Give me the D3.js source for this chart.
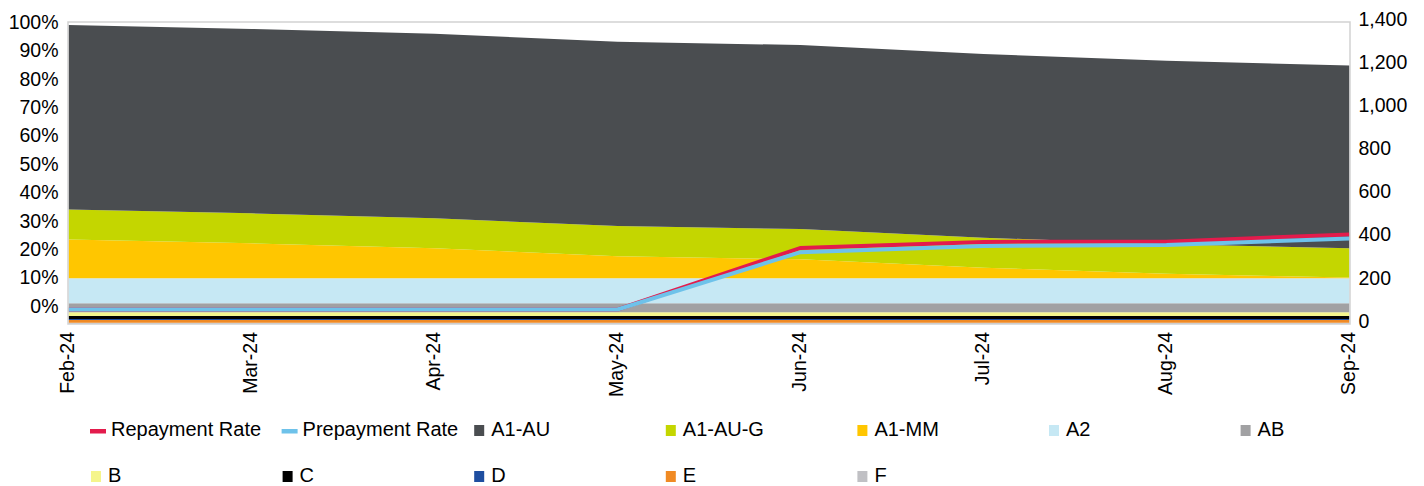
<!DOCTYPE html>
<html><head><meta charset="utf-8">
<script src="https://cdn.jsdelivr.net/npm/d3@7"></script>
<style>
html,body{margin:0;padding:0;background:#fff;}
svg text{font-family:"Liberation Sans",Arial,sans-serif;fill:#000;}
</style></head>
<body><svg id="chart" width="1424" height="486"></svg>
<script>
// ---- data ----
const months = ["Feb-24","Mar-24","Apr-24","May-24","Jun-24","Jul-24","Aug-24","Sep-24"];
const A1_AU   = [855, 855, 855, 855, 853, 852, 850, 847];
const A1_AU_G = [139, 139, 139, 140, 140, 139, 137, 136];
const A1_MM   = [180, 162, 139, 102, 88, 49, 21, 3];
const A2      = [116, 116, 116, 116, 116, 116, 116, 116];
const AB      = [42, 42, 42, 42, 42, 42, 42, 42];
const B       = [17, 17, 17, 17, 17, 17, 17, 17];
const C       = [14, 14, 14, 14, 14, 14, 14, 14];
const D       = [5, 5, 5, 5, 5, 5, 5, 5];
const E       = [12, 12, 12, 12, 12, 12, 12, 12];
const F       = [6, 6, 6, 6, 6, 6, 6, 6];
const repaymentRate  = [0, 0, 0, 0, 0.217, 0.238, 0.239, 0.264];
const prepaymentRate = [0, 0, 0, 0, 0.202, 0.224, 0.227, 0.250];
const leftTicks  = [0,0.1,0.2,0.3,0.4,0.5,0.6,0.7,0.8,0.9,1.0];
const rightTicks = [0,200,400,600,800,1000,1200,1400];

const areaSeries = [ // bottom to top
  {key:"F", values:F, color:"#c0c0c4"},
  {key:"E", values:E, color:"#f08a24"},
  {key:"D", values:D, color:"#1e4ea0"},
  {key:"C", values:C, color:"#000000"},
  {key:"B", values:B, color:"#f5f58c"},
  {key:"AB", values:AB, color:"#a1a1a3"},
  {key:"A2", values:A2, color:"#c6e8f4"},
  {key:"A1-MM", values:A1_MM, color:"#ffc600"},
  {key:"A1-AU-G", values:A1_AU_G, color:"#c4d600"},
  {key:"A1-AU", values:A1_AU, color:"#4a4d50"}
];
const lineSeries = [
  {key:"Repayment Rate", values:repaymentRate, color:"#e31b4c"},
  {key:"Prepayment Rate", values:prepaymentRate, color:"#6ec2ea"}
];
const legendOrder = ["Repayment Rate","Prepayment Rate","A1-AU","A1-AU-G","A1-MM","A2","AB","B","C","D","E","F"];

// ---- layout ----
const margin = {left:68.5, top:22, right:74.5, bottom:162};
const W = 1424 - margin.left - margin.right;
const H = 486 - margin.top - margin.bottom;
const svg = d3.select("#chart");
const g = svg.append("g").attr("transform",`translate(${margin.left},${margin.top})`);

const x = d3.scalePoint().domain(months).range([0, W]);
const yR = d3.scaleLinear().domain([0,1400]).range([H,0]);
const yL = d3.scaleLinear().domain([-0.051,1.0123]).range([H,0]);

// stacked areas
const rows = months.map((m,i)=>{const r={month:m}; areaSeries.forEach(s=>r[s.key]=s.values[i]); return r;});
const stack = d3.stack().keys(areaSeries.map(s=>s.key))(rows);
const area = d3.area().x(d=>x(d.data.month)).y0(d=>yR(d[0])).y1(d=>yR(d[1]));
g.selectAll("path.area").data(stack).join("path")
  .attr("class","area")
  .attr("d",area)
  .attr("fill",(d,i)=>areaSeries[i].color);

// lines
const line = d3.line().x((d,i)=>x(months[i])).y(d=>yL(d));
lineSeries.forEach(s=>{
  g.append("path").attr("d",line(s.values)).attr("fill","none")
   .attr("stroke",s.color).attr("stroke-width",4).attr("stroke-linejoin","miter");
});

// plot frame
g.append("rect").attr("x",-0.5).attr("y",0).attr("width",W+1).attr("height",H)
  .attr("fill","none").attr("stroke","#d2d2d2").attr("stroke-width",1.5);

// axes
const fs = "19.5px";
const axL = g.append("g").call(d3.axisLeft(yL).tickValues(leftTicks).tickFormat(d3.format(".0%")).tickSize(0).tickPadding(10));
axL.select(".domain").remove();
axL.selectAll("text").attr("font-size",fs).attr("transform","translate(0,-3.5)");

const axR = g.append("g").attr("transform",`translate(${W},0)`)
  .call(d3.axisRight(yR).tickValues(rightTicks).tickFormat(d3.format(",")).tickSize(0).tickPadding(9));
axR.select(".domain").remove();
axR.selectAll("text").attr("font-size",fs).attr("transform","translate(0,-3)");

const axB = g.append("g").attr("transform",`translate(0,${H})`)
  .call(d3.axisBottom(x).tickSize(0));
axB.select(".domain").remove();
axB.selectAll("text").attr("font-size",fs)
  .attr("transform","rotate(-90)").attr("x",-8).attr("y",-2).attr("dy","0.35em")
  .attr("text-anchor","end");

// legend
const colorOf = {};
areaSeries.forEach(s=>colorOf[s.key]=s.color);
lineSeries.forEach(s=>colorOf[s.key]=s.color);
const isLine = k => lineSeries.some(s=>s.key===k);
const leg = svg.append("g");
legendOrder.forEach((k,i)=>{
  const col = i % 7, row = Math.floor(i/7);
  const lx = 90 + col*191.6, ly = 429 + row*46;
  const it = leg.append("g").attr("transform",`translate(${lx},${ly})`);
  if (isLine(k)) {
    it.append("rect").attr("x",0).attr("y",0).attr("width",16).attr("height",4.5).attr("fill",colorOf[k]);
    it.append("text").attr("x",21).attr("y",0).attr("dy","0.35em").attr("font-size","20px").text(k);
  } else {
    it.append("rect").attr("x",1).attr("y",-4).attr("width",10).attr("height",11).attr("fill",colorOf[k]);
    it.append("text").attr("x",18).attr("y",0).attr("dy","0.35em").attr("font-size","20px").text(k);
  }
});
</script></body></html>
